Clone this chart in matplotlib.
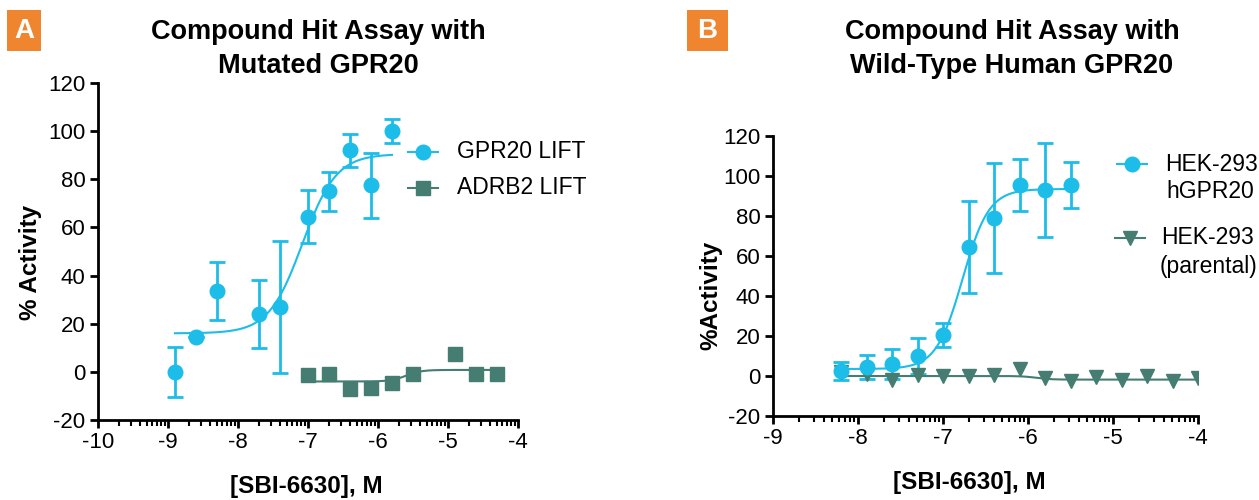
import numpy as np
import matplotlib.pyplot as plt
from matplotlib.lines import Line2D
from matplotlib.patches import Rectangle

plt.rcParams['font.family'] = ['Liberation Sans', 'DejaVu Sans']
plt.rcParams['axes.unicode_minus'] = False

CYAN = '#1cbde9'
TEAL = '#457d72'
ORANGE = '#f0852f'

# Panel A: mutated GPR20
a_gpr_x = [-8.9, -8.6, -8.3, -7.7, -7.4, -7.0, -6.7, -6.4, -6.1, -5.8]
a_gpr_y = [0, 14.5, 33.5, 24, 27, 64.5, 75, 92, 77.5, 100]
a_gpr_err = [10.5, 0, 12, 14, 27.5, 11, 8, 7, 13.5, 5]
a_gpr_fit = [16, 90.5, -7.08, 1.8]   # bottom, top, logEC50, hill

a_adrb_x = [-7.0, -6.7, -6.4, -6.1, -5.8, -5.5, -4.9, -4.6, -4.3]
a_adrb_y = [-1.5, -1, -7, -6.5, -4.5, -1, 7.5, -1, -1]
a_adrb_fit = [-4, 0.8, -5.6, 4]

# Panel B: wild-type human GPR20
b_hek_x = [-8.2, -7.9, -7.6, -7.3, -7.0, -6.7, -6.4, -6.1, -5.8, -5.5]
b_hek_y = [2.5, 4.5, 6, 10, 20.5, 64.5, 79, 95.5, 93, 95.5]
b_hek_err = [4.5, 6, 7.5, 9, 6, 23, 27.5, 13, 23.5, 11.5]
b_hek_fit = [3.5, 93.5, -6.77, 2.8]

b_par_x = [-8.2, -7.9, -7.6, -7.3, -7.0, -6.7, -6.4, -6.1, -5.8, -5.5, -5.2, -4.9, -4.6, -4.3, -4.0]
b_par_y = [2, 1, -2, 0.5, 0, 0, 0.5, 3.5, -1, -2.5, -0.5, -2, 0, -2.5, -1]
b_par_fit = [0, -1.8, -5.9, 5]

W, H = 1259, 500


def fx(px):
    return px / W


def fy(py):
    return 1 - py / H


def four_pl(x, p):
    bottom, top, ec50, hill = p
    return bottom + (top - bottom) / (1 + 10 ** ((ec50 - x) * hill))


def style_axis(ax, xmin, xmax):
    ax.set_xlim(xmin, xmax)
    ax.set_ylim(-20, 120)
    ax.set_xticks(np.arange(xmin, xmax + 1))
    ax.set_xticklabels([str(int(v)) for v in np.arange(xmin, xmax + 1)])
    minor = [d + np.log10(k) for d in range(xmin, xmax) for k in range(2, 10)]
    ax.set_xticks(minor, minor=True)
    ax.set_yticks(np.arange(-20, 121, 20))
    for s in ['top', 'right']:
        ax.spines[s].set_visible(False)
    for s in ['left', 'bottom']:
        ax.spines[s].set_linewidth(2)
    ax.tick_params(which='major', length=6, width=2, labelsize=16, pad=3)
    ax.tick_params(which='minor', length=4, width=1.5)


def legend_entry(x_mark, y, color, marker, lines):
    fig.add_artist(Line2D([fx(x_mark - 15), fx(x_mark + 15)], [fy(y), fy(y)],
                          transform=fig.transFigure, color=color, lw=1.5))
    fig.add_artist(Line2D([fx(x_mark)], [fy(y)], transform=fig.transFigure,
                          color=color, marker=marker, ms=10.5, lw=0))
    for i, (xt, txt) in enumerate(lines):
        fig.text(fx(xt), fy(y + i * 28), txt, ha='left', va='center', fontsize=16.5)


fig = plt.figure(figsize=(W / 100, H / 100), dpi=100)

# ---- panel A
axA = fig.add_axes([fx(98), fy(420), 420 / W, 337 / H])
style_axis(axA, -10, -4)
xx = np.linspace(a_gpr_x[0], a_gpr_x[-1], 300)
axA.plot(xx, four_pl(xx, a_gpr_fit), color=CYAN, lw=1.5)
axA.errorbar(a_gpr_x, a_gpr_y, yerr=a_gpr_err, fmt='o', color=CYAN, ms=10.5,
             elinewidth=2, capsize=6, capthick=2)
xx = np.linspace(a_adrb_x[0], a_adrb_x[-1], 300)
axA.plot(xx, four_pl(xx, a_adrb_fit), color=TEAL, lw=1.5)
axA.plot(a_adrb_x, a_adrb_y, 's', color=TEAL, ms=10.5)

legend_entry(423, 152, CYAN, 'o', [(457, 'GPR20 LIFT')])
legend_entry(423, 188, TEAL, 's', [(457, 'ADRB2 LIFT')])

# ---- panel B
axB = fig.add_axes([fx(773), fy(416), 425 / W, 280 / H])
style_axis(axB, -9, -4)
xx = np.linspace(b_hek_x[0], b_hek_x[-1], 300)
axB.plot(xx, four_pl(xx, b_hek_fit), color=CYAN, lw=1.5)
axB.errorbar(b_hek_x, b_hek_y, yerr=b_hek_err, fmt='o', color=CYAN, ms=10.5,
             elinewidth=2, capsize=6, capthick=2)
xx = np.linspace(b_par_x[0], b_par_x[-1], 300)
axB.plot(xx, four_pl(xx, b_par_fit), color=TEAL, lw=1.5)
axB.plot(b_par_x, b_par_y, 'v', color=TEAL, ms=10.5)

legend_entry(1132, 164, CYAN, 'o', [(1165, 'HEK-293'), (1166, 'hGPR20')])
legend_entry(1130, 238, TEAL, 'v', [(1161, 'HEK-293'), (1160, '(parental)')])

# titles, labels
fig.text(fx(318), fy(49), 'Compound Hit Assay with\nMutated GPR20', ha='center',
         va='center', fontsize=19.5, fontweight='bold', linespacing=1.38)
fig.text(fx(1012), fy(49), 'Compound Hit Assay with\nWild-Type Human GPR20',
         ha='center', va='center', fontsize=19.5, fontweight='bold', linespacing=1.38)
fig.text(fx(306), fy(487), '[SBI-6630], M', ha='center', va='center',
         fontsize=17.5, fontweight='bold')
fig.text(fx(969), fy(483), '[SBI-6630], M', ha='center', va='center',
         fontsize=17.5, fontweight='bold')
fig.text(fx(30), fy(262), '% Activity', ha='center', va='center', rotation=90,
         fontsize=17.5, fontweight='bold')
fig.text(fx(711), fy(295), '%Activity', ha='center', va='center', rotation=90,
         fontsize=17.5, fontweight='bold')

# panel letters
for x0, x1, letter in [(7, 41, 'A'), (687, 728, 'B')]:
    fig.add_artist(Rectangle((fx(x0), fy(51)), (x1 - x0) / W, 41 / H,
                             transform=fig.transFigure, fc=ORANGE, ec='none'))
    fig.text(fx((x0 + x1) / 2), fy(31), letter, ha='center', va='center',
             fontsize=20, fontweight='bold', color='white')

fig.savefig('out.png', dpi=100)
